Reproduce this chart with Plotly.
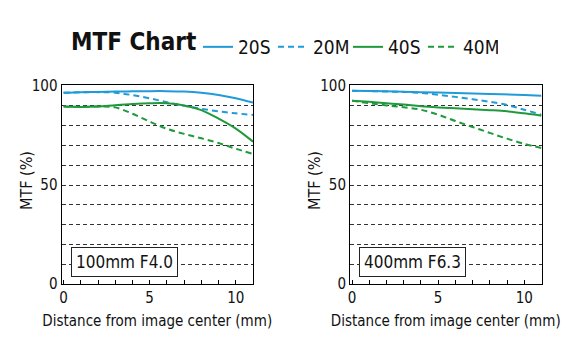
import plotly.graph_objects as go

# ---- data ----
x_l_20S = [0, 1, 2, 3, 4, 5, 6, 7, 8, 9, 10, 11]
y_l_20S = [96.6, 96.9, 97.0, 97.2, 97.3, 97.4, 97.4, 97.2, 96.6, 95.5, 93.8, 91.6]
x_l_20M = [0, 1, 2, 3, 4, 5, 6, 7, 8, 9, 10, 11]
y_l_20M = [96.6, 96.8, 96.9, 96.6, 95.4, 93.8, 91.8, 90.0, 88.5, 87.2, 86.2, 85.4]
x_l_40S = [0, 1, 2, 3, 4, 5, 6, 7, 8, 9, 10, 11]
y_l_40S = [89.6, 89.4, 89.6, 90.3, 90.9, 91.3, 91.3, 90.2, 87.8, 83.5, 78.5, 71.9]
x_l_40M = [0, 1, 2, 3, 4, 5, 6, 7, 8, 9, 10, 11]
y_l_40M = [89.6, 89.5, 89.6, 89.2, 86.0, 82.0, 78.4, 75.8, 73.6, 71.2, 68.3, 65.7]

x_r_20S = [0, 2, 4, 6, 8, 10, 11]
y_r_20S = [97.6, 97.3, 96.9, 96.4, 96.0, 95.4, 95.1]
x_r_20M = [0, 1, 2, 3, 4, 5, 6, 7, 8, 9, 10, 11]
y_r_20M = [97.6, 97.4, 97.2, 97.0, 96.5, 95.6, 94.5, 93.3, 92.0, 90.4, 88.0, 85.5]
x_r_40S = [0, 1, 2, 3, 4, 5, 6, 7, 8, 9, 10, 11]
y_r_40S = [92.6, 92.0, 91.3, 90.6, 89.8, 89.2, 88.7, 88.3, 87.8, 87.2, 86.2, 85.0]
x_r_40M = [0, 1, 2, 3, 4, 5, 6, 7, 8, 9, 10, 11]
y_r_40M = [92.6, 91.3, 90.2, 89.3, 88.0, 85.5, 82.3, 79.3, 76.3, 73.4, 70.8, 68.7]

lens_labels = ["100mm F4.0", "400mm F6.3"]
x_ticks = list(range(0, 12))
x_ticktext = ["0", "", "", "", "", "5", "", "", "", "", "10", ""]
y_ticks = list(range(0, 101, 10))
y_ticktext = ["0", "", "", "", "", "50", "", "", "", "", "100"]
x_title = "Distance from image center (mm)"
y_title = "MTF (%)"

BLUE = "#1f9bd7"
GREEN = "#1e9a3c"
FONT = "DejaVu Sans Condensed"

W, H = 573, 352

fig = go.Figure()

series = [
    ("20S", BLUE, "solid", x_l_20S, y_l_20S, x_r_20S, y_r_20S),
    ("20M", BLUE, "6px,4px", x_l_20M, y_l_20M, x_r_20M, y_r_20M),
    ("40S", GREEN, "solid", x_l_40S, y_l_40S, x_r_40S, y_r_40S),
    ("40M", GREEN, "6px,4px", x_l_40M, y_l_40M, x_r_40M, y_r_40M),
]
for name, col, dash, xl, yl, xr, yr in series:
    fig.add_trace(go.Scatter(x=xl, y=yl, mode="lines", name=name,
                             line=dict(color=col, width=2, dash=dash, shape="spline"),
                             xaxis="x", yaxis="y", legendgroup=name, showlegend=True))
    fig.add_trace(go.Scatter(x=xr, y=yr, mode="lines", name=name,
                             line=dict(color=col, width=2, dash=dash, shape="spline"),
                             xaxis="x2", yaxis="y2", legendgroup=name, showlegend=False))

def px_x(p):
    return p / W

def px_y(p):
    return 1 - p / H

ydom = [px_y(284), px_y(85)]
axis_common = dict(showline=True, linecolor="black", linewidth=1, mirror=True,
                   zeroline=False, automargin=False,
                   tickfont=dict(size=15, color="#111", family=FONT))

xaxis_common = dict(axis_common, range=[-0.12, 11.0], tickmode="array", tickvals=x_ticks,
                    ticktext=x_ticktext, ticks="inside", ticklen=4, tickcolor="black",
                    showgrid=False,
                    title=dict(text=x_title,
                               font=dict(size=15, color="#111", family=FONT), standoff=9))
yaxis_common = dict(axis_common, range=[0, 100.5], tickmode="array", tickvals=y_ticks,
                    ticktext=y_ticktext, ticks="", showgrid=True, gridcolor="#333",
                    griddash="4px,3px", gridwidth=1)

fig.update_layout(
    width=W, height=H,
    margin=dict(l=0, r=0, t=0, b=0, autoexpand=False),
    paper_bgcolor="white", plot_bgcolor="white",
    font=dict(family=FONT, color="#111"),
    xaxis=dict(xaxis_common, domain=[px_x(61.5), px_x(253)], anchor="y"),
    yaxis=dict(yaxis_common, domain=ydom, anchor="x"),
    xaxis2=dict(xaxis_common, domain=[px_x(350), px_x(541.5)], anchor="y2"),
    yaxis2=dict(yaxis_common, domain=ydom, anchor="x2"),
    showlegend=True,
    legend=dict(orientation="h", x=px_x(198), y=px_y(47), xanchor="left", yanchor="middle",
                font=dict(size=19, family=FONT, color="#111"), entrywidth=30,
                tracegroupgap=0, bgcolor="rgba(0,0,0,0)"),
)

fig.add_annotation(text="<b>MTF Chart</b>", x=px_x(69), y=px_y(42), xref="paper", yref="paper",
                   xanchor="left", yanchor="middle", showarrow=False,
                   font=dict(size=24, family=FONT, color="#111"))

# y-axis titles
for xc in (26, 314):
    fig.add_annotation(text=y_title, x=px_x(xc), y=px_y(181), xref="paper", yref="paper",
                       xanchor="center", yanchor="middle", textangle=-90, showarrow=False,
                       font=dict(size=16, family=FONT, color="#111"))

for i, lab in enumerate(lens_labels):
    xr = "x domain" if i == 0 else "x2 domain"
    yr = "y domain" if i == 0 else "y2 domain"
    fig.add_annotation(text=lab, x=0.047, y=0.035, xref=xr, yref=yr, xanchor="left",
                       yanchor="bottom", showarrow=False, bgcolor="white",
                       bordercolor="#222", borderwidth=1, borderpad=4,
                       font=dict(size=17, family=FONT, color="#111"))

fig.write_html("out.html")
